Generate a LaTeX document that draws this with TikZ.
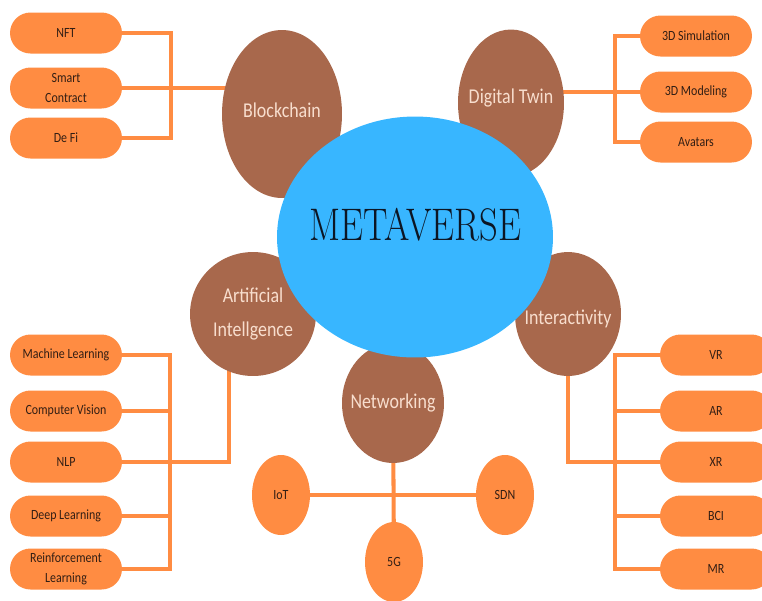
\documentclass[tikz,border=0pt]{standalone}
\usepackage{fontspec}
\usepackage{graphicx}
\usetikzlibrary{shapes.geometric,backgrounds}
\newfontfamily\labelfont{Carlito}[FakeStretch=0.85]
\definecolor{pillorange}{RGB}{255,140,66}
\definecolor{topicbrown}{RGB}{168,104,76}
\definecolor{hubblue}{RGB}{56,182,255}
\definecolor{pilltext}{RGB}{50,30,20}
\definecolor{topictext}{RGB}{248,222,206}
\definecolor{hubtext}{RGB}{12,22,36}
\newcommand{\hubword}[1]{\scalebox{0.8}[1]{\fontsize{26}{30}\selectfont #1}}
\tikzstyle{pill} = [rectangle, rounded corners=0.41cm, minimum width=2.24cm, minimum height=0.82cm, inner ysep=1pt, text centered, align=center, fill=pillorange, text=pilltext, font=\labelfont\fontsize{8}{11}\selectfont]
\tikzstyle{topic} = [ellipse, inner sep=0pt, fill=topicbrown]
\tikzstyle{topiclabel} = [text=topictext, align=center, font=\labelfont\fontsize{12}{19}\selectfont]
\tikzstyle{leaf} = [ellipse, inner sep=0pt, minimum width=1.16cm, minimum height=1.6cm, fill=pillorange, text=pilltext, font=\labelfont\fontsize{8}{11}\selectfont]
\tikzstyle{hub} = [ellipse, inner sep=0pt, minimum width=5.52cm, minimum height=4.82cm, fill=hubblue]
\tikzstyle{hubtitle} = [text=hubtext]
\tikzstyle{link} = [draw=pillorange, line width=2.3pt]

\begin{document}
\begin{tikzpicture}[x=0.02cm, y=-0.02cm]
 \useasboundingbox (0,0) rectangle (762,600);
 \clip (0,0) rectangle (762,600);

 \node (chain) [topic, minimum width=2.4cm, minimum height=3.36cm, label={[topiclabel, yshift=2pt]center:Blockchain}] at (282,114) {};
 \node (twin) [topic, minimum width=2.12cm, minimum height=2.94cm, label={[topiclabel, yshift=3pt]center:Digital Twin}] at (511,103) {};
 \node (ai) [topic, minimum width=2.52cm, minimum height=2.48cm, label={[topiclabel]center:Artificial\\Intellgence}] at (253,314) {};
 \node (inter) [topic, minimum width=2.12cm, minimum height=2.48cm, label={[topiclabel, yshift=-3pt]center:Interactivity}] at (568,314) {};
 \node (net) [topic, minimum width=2.04cm, minimum height=2.4cm, label={[topiclabel]center:Networking}] at (393,403) {};

 \node (meta) [hub, label={[hubtitle, yshift=7pt]center:\hubword{METAVERSE}}] at (415,237) {};

 \node (nft) [pill] at (66,33) {NFT};
 \node (contract) [pill] at (66,88) {Smart\\Contract};
 \node (defi) [pill] at (66,138) {De Fi};

 \node (sim) [pill] at (696,36) {3D Simulation};
 \node (model) [pill] at (696,92) {3D Modeling};
 \node (avatar) [pill] at (696,142) {Avatars};

 \node (ml) [pill] at (66,355) {Machine Learning};
 \node (cv) [pill] at (66,411) {Computer Vision};
 \node (nlp) [pill] at (66,462) {NLP};
 \node (dl) [pill] at (66,516) {Deep Learning};
 \node (rl) [pill] at (66,569) {Reinforcement\\Learning};

 \node (vr) [pill] at (716,355) {VR};
 \node (ar) [pill] at (716,411) {AR};
 \node (xr) [pill] at (716,462) {XR};
 \node (bci) [pill] at (716,516) {BCI};
 \node (mr) [pill] at (716,569) {MR};

 \node (iot) [leaf] at (281,495) {IoT};
 \node (sdn) [leaf] at (505,495) {SDN};
 \node (fiveg) [leaf] at (394,562) {5G};

 \begin{scope}[on background layer]
  \coordinate (busA) at (171,0);
  \coordinate (busB) at (615,0);
  \coordinate (busC) at (170,0);
  \coordinate (busD) at (615,0);
  \coordinate (aiLeg) at (229,0);

  \draw[link] (nft.east) -- (nft.east -| busA) |- (defi.east);
  \draw[link] (contract.east) -- (contract.east -| chain.center);

  \draw[link] (sim.west) -- (sim.west -| busB) |- (avatar.west);
  \draw[link] (model.west) -- (model.west -| twin.center);

  \draw[link] (ml.east) -- (ml.east -| busC) |- (rl.east);
  \draw[link] (cv.east) -- (cv.east -| busC);
  \draw[link] (dl.east) -- (dl.east -| busC);
  \draw[link] (nlp.east) -- (nlp.east -| aiLeg) -- (aiLeg |- ai.center);

  \draw[link] (vr.west) -- (vr.west -| busD) |- (mr.west);
  \draw[link] (ar.west) -- (ar.west -| busD);
  \draw[link] (bci.west) -- (bci.west -| busD);
  \draw[link] (xr.west) -| (inter.center);

  \draw[link] (iot.center) -- (sdn.center);
  \draw[link] (net.center) -- (fiveg.center);
 \end{scope}
\end{tikzpicture}
\end{document}
